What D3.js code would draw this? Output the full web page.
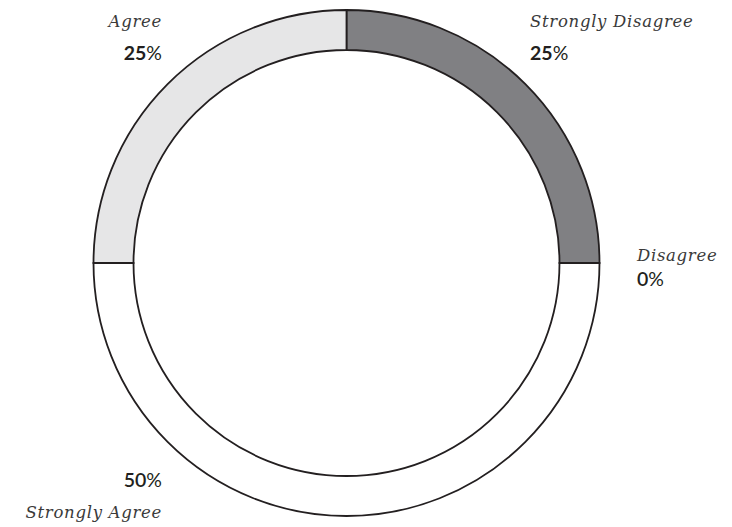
<!DOCTYPE html>
<html><head><meta charset="utf-8">
<script src="https://cdn.jsdelivr.net/npm/d3@7"></script>
<style>
html,body{margin:0;padding:0;background:#fff;}
.lab{font-family:"DejaVu Serif",serif;font-style:italic;font-size:16.5px;fill:#3a3a3a;}
.pct{font-family:"Lato","Open Sans",sans-serif;font-size:19.5px;fill:#231f20;}
</style></head>
<body>
<svg id="chart" width="732" height="527"></svg>
<script>
const categories = ["Strongly Disagree","Disagree","Strongly Agree","Agree"];
const values = [25, 0, 50, 25];
const colors = ["#808083","#808083","#ffffff","#e6e6e7"];
const pctLabels = ["25","0","50","25"];

const svg = d3.select("#chart");
const cx = 346.5, cy = 263, rOuter = 253, rInner = 213;
const g = svg.append("g").attr("transform",`translate(${cx},${cy})`);
const pie = d3.pie().sort(null).value(d=>d);
const arc = d3.arc().innerRadius(rInner).outerRadius(rOuter);
g.selectAll("path").data(pie(values)).join("path")
  .attr("d",arc)
  .attr("fill",(d,i)=>colors[i])
  .attr("stroke","#231f20")
  .attr("stroke-width",1.8);

const pos = [
  {x:530, yn:27, yp:60, a:"start"},
  {x:637, yn:261, yp:286, a:"start"},
  {x:162, yn:518, yp:487, a:"end"},
  {x:162, yn:27, yp:60, a:"end"}
];
categories.forEach((c,i)=>{
  const p = pos[i];
  svg.append("text").attr("class","lab").attr("x",p.x).attr("y",p.yn)
    .attr("text-anchor",p.a).attr("letter-spacing","0.7").text(c);
  const t = svg.append("text").attr("class","pct").attr("x",p.x).attr("y",p.yp)
    .attr("text-anchor",p.a);
  t.append("tspan").attr("font-weight", pctLabels[i]==="25"?700:600).text(pctLabels[i]);
  t.append("tspan").attr("font-weight",400).text("%");
});
</script>
</body></html>
